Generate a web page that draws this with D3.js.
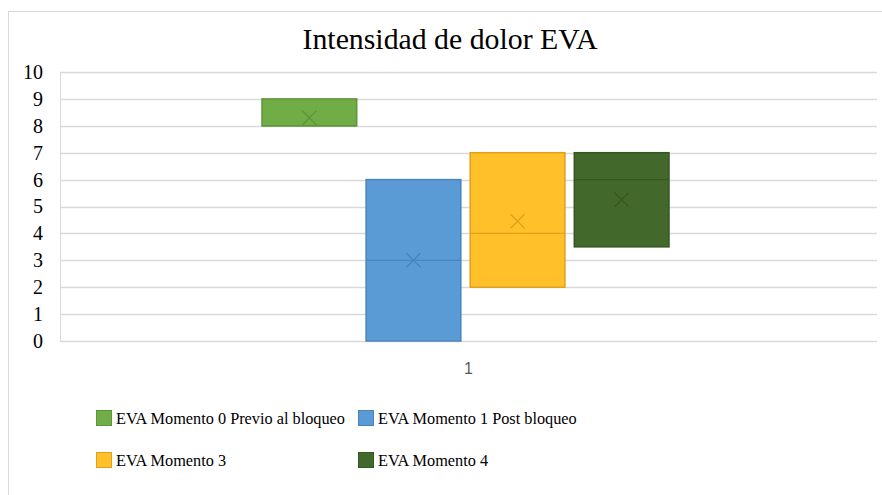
<!DOCTYPE html>
<html>
<head>
<meta charset="utf-8">
<script src="https://cdnjs.cloudflare.com/ajax/libs/d3/7.8.5/d3.min.js"></script>
<style>
  body { margin: 0; background: #fff; }
  svg { display: block; }
</style>
</head>
<body>
<div id="chartBox"></div>
<script>
// data
var seriesNames = ["EVA Momento 0 Previo al bloqueo", "EVA Momento 1 Post bloqueo", "EVA Momento 3", "EVA Momento 4"];
var categories = ["1"];
var q1Values = [8, 0, 2, 3.5];
var medianValues = [8, 3, 4, 6];
var q3Values = [9, 6, 7, 7];
var minValues = [8, 0, 2, 3.5];
var maxValues = [9, 6, 7, 7];
var meanValues = [8.3, 3, 4.45, 5.25];
var yTicks = [0, 1, 2, 3, 4, 5, 6, 7, 8, 9, 10];

var fills = ["#70AD47", "#5B9BD5", "#FFC02A", "#43682B"];
var strokes = ["#5E953A", "#4A84BC", "#DDA21C", "#375722"];

var serifFont = "Liberation Serif, DejaVu Serif, serif";

var w = 882, h = 495;
var margin = { left: 60, right: 5, top: 72, bottom: 154 };

var svg = d3.select("#chartBox")
  .append("svg")
  .attr("width", w)
  .attr("height", h);

// outer chart frame
svg.append("rect")
  .attr("x", 8.5).attr("y", 11.5)
  .attr("width", w + 10).attr("height", h + 10)
  .attr("fill", "none")
  .attr("stroke", "#D9D9D9");

svg.append("text")
  .attr("x", 450).attr("y", 48.5)
  .attr("text-anchor", "middle")
  .attr("font-family", serifFont)
  .attr("font-size", 29.8)
  .attr("fill", "#000")
  .text("Intensidad de dolor EVA");

var y = d3.scaleLinear()
  .domain([0, 10])
  .range([h - margin.bottom, margin.top]);

var x = d3.scaleBand()
  .domain(categories)
  .range([margin.left, w - margin.right]);

var inner = d3.scaleBand()
  .domain(seriesNames)
  .range([x("1") + 202, x("1") + x.bandwidth() - 208])
  .paddingInner(0.09);

// gridlines
svg.append("g")
  .selectAll("line")
  .data(yTicks)
  .enter()
    .append("line")
    .attr("x1", margin.left)
    .attr("x2", w - margin.right)
    .attr("y1", function(d) { return Math.round(y(d)) + 0.5; })
    .attr("y2", function(d) { return Math.round(y(d)) + 0.5; })
    .style("stroke", "#D9D9D9")
    .style("stroke-width", 1.3);

svg.append("line")
  .attr("x1", margin.left + 0.5).attr("x2", margin.left + 0.5)
  .attr("y1", y(10)).attr("y2", y(0))
  .style("stroke", "#D9D9D9");

// y axis labels
var yAxis = svg.append("g")
  .attr("transform", "translate(" + (margin.left - 17) + ",0)")
  .call(d3.axisLeft(y).tickValues(yTicks).tickSize(0).tickPadding(0));
yAxis.attr("font-family", serifFont).attr("font-size", 20);
yAxis.select(".domain").remove();
yAxis.selectAll("text").attr("fill", "#000");

// x axis label
var xAxis = svg.append("g")
  .attr("transform", "translate(0," + (y(0) + 22) + ")")
  .call(d3.axisBottom(x).tickSize(0).tickPadding(0));
xAxis.attr("font-family", "Liberation Sans, Arial, sans-serif").attr("font-size", 16);
xAxis.select(".domain").remove();
xAxis.selectAll("text").attr("fill", "#595959");

var boxes = svg.append("g")
  .selectAll("g")
  .data(seriesNames)
  .enter()
    .append("g");

// whiskers (zero length here, min/max match the box edges)
boxes.append("line")
  .attr("x1", function(d) { return inner(d) + inner.bandwidth() / 2; })
  .attr("x2", function(d) { return inner(d) + inner.bandwidth() / 2; })
  .attr("y1", function(d, i) { return y(maxValues[i]); })
  .attr("y2", function(d, i) { return y(q3Values[i]); })
  .style("stroke", function(d, i) { return strokes[i]; });
boxes.append("line")
  .attr("x1", function(d) { return inner(d) + inner.bandwidth() / 2; })
  .attr("x2", function(d) { return inner(d) + inner.bandwidth() / 2; })
  .attr("y1", function(d, i) { return y(q1Values[i]); })
  .attr("y2", function(d, i) { return y(minValues[i]); })
  .style("stroke", function(d, i) { return strokes[i]; });

boxes.append("rect")
  .attr("x", function(d) { return inner(d); })
  .attr("width", inner.bandwidth())
  .attr("y", function(d, i) { return y(q3Values[i]); })
  .attr("height", function(d, i) { return y(q1Values[i]) - y(q3Values[i]); })
  .style("fill", function(d, i) { return fills[i]; })
  .style("stroke", function(d, i) { return strokes[i]; })
  .style("stroke-width", 1.5);

boxes.append("line")
  .attr("x1", function(d) { return inner(d); })
  .attr("x2", function(d) { return inner(d) + inner.bandwidth(); })
  .attr("y1", function(d, i) { return y(medianValues[i]); })
  .attr("y2", function(d, i) { return y(medianValues[i]); })
  .style("stroke", function(d, i) { return strokes[i]; })
  .style("stroke-width", 1.3);

// mean markers
boxes.append("path")
  .attr("transform", function(d, i) {
    return "translate(" + (inner(d) + inner.bandwidth() / 2) + "," + y(meanValues[i]) + ")";
  })
  .attr("d", "M-7,-7L7,7M-7,7L7,-7")
  .style("fill", "none")
  .style("stroke", function(d, i) { return strokes[i]; })
  .style("stroke-width", 1.3);

// legend
var legendPos = [[96, 418], [358, 418], [96, 460], [358, 460]];
var legend = svg.append("g")
  .attr("font-family", serifFont)
  .attr("font-size", 16.3)
  .selectAll("g")
  .data(seriesNames)
  .enter()
    .append("g")
    .attr("transform", function(d, i) { return "translate(" + legendPos[i][0] + "," + legendPos[i][1] + ")"; });

legend.append("rect")
  .attr("x", 0.5).attr("y", -7.5)
  .attr("width", 15).attr("height", 15)
  .style("fill", function(d, i) { return fills[i]; })
  .style("stroke", function(d, i) { return strokes[i]; });

legend.append("text")
  .attr("x", 20).attr("y", 5.5)
  .attr("fill", "#000")
  .text(function(d) { return d; });
</script>
</body>
</html>
